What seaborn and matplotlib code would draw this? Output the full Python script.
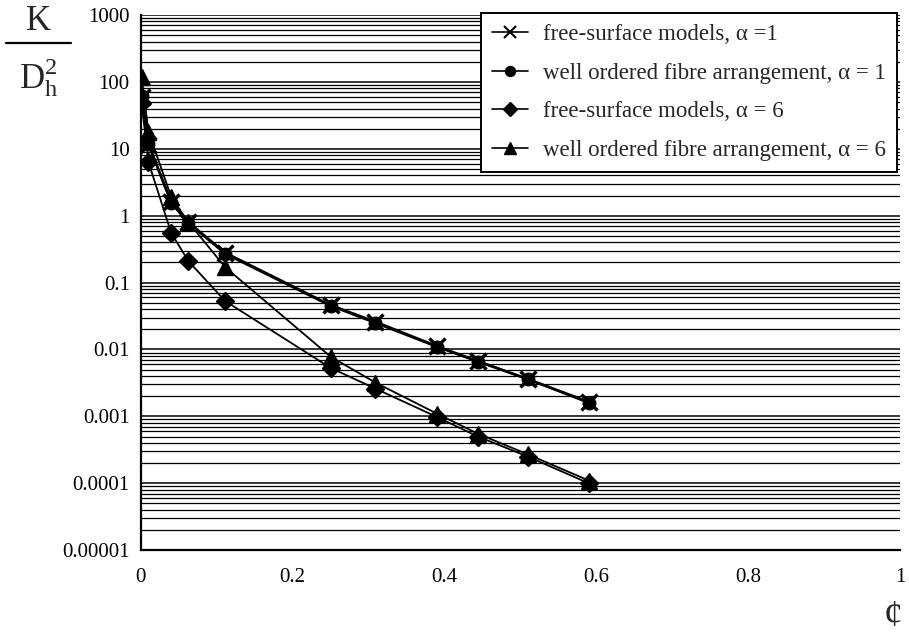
import matplotlib
matplotlib.use("Agg")
import matplotlib.pyplot as plt
from matplotlib.lines import Line2D
from matplotlib.ticker import FixedLocator, FixedFormatter, LogLocator, NullFormatter
import seaborn as sns
import pandas as pd

# Fibre volume fraction
phi = [0.001, 0.01, 0.04, 0.0625, 0.111, 0.25, 0.309, 0.39, 0.444, 0.51, 0.59]

# Dimensionless permeability K / Dh^2
free_surface_a1 = [60, 11.5, 1.6, 0.80, 0.28, 0.046, 0.026, 0.0112, 0.0067, 0.0036, 0.00165]
well_ordered_a1 = [62, 12.0, 1.55, 0.78, 0.27, 0.045, 0.025, 0.011, 0.0066, 0.0036, 0.0016]
free_surface_a6 = [48, 6.3, 0.55, 0.21, 0.053, 0.0053, 0.0026, 0.00098, 0.0005, 0.00025, 0.0001]
well_ordered_a6 = [117, 18, 1.9, 0.80, 0.17, 0.0078, 0.0032, 0.0011, 0.00055, 0.00027, 0.00011]

series_names = [
    "free-surface models, \u03b1 =1",
    "well ordered fibre arrangement, \u03b1 = 1",
    "free-surface models, \u03b1 = 6",
    "well ordered fibre arrangement, \u03b1 = 6",
]
series_values = [free_surface_a1, well_ordered_a1, free_surface_a6, well_ordered_a6]
markers = ["x", "o", "D", "^"]
marker_sizes = [11, 9, 9, 11]
line_widths = [1.8, 1.8, 1.3, 1.3]

y_ticks = [1e3, 1e2, 1e1, 1, 0.1, 0.01, 0.001, 0.0001, 0.00001]
y_tick_labels = ["1000", "100", "10", "1", "0.1", "0.01", "0.001", "0.0001", "0.00001"]
x_ticks = [0, 0.2, 0.4, 0.6, 0.8, 1]
x_tick_labels = ["0", "0.2", "0.4", "0.6", "0.8", "1"]

sns.set_theme(style="white")
plt.rcParams["font.family"] = ["Liberation Serif", "DejaVu Serif"]
plt.rcParams["mathtext.fontset"] = "custom"
plt.rcParams["mathtext.rm"] = "Liberation Serif"

fig = plt.figure(figsize=(9.09, 6.39), dpi=100)
ax = fig.add_axes([0.155, 0.139, 0.835, 0.8375])

frames = []
for name, vals in zip(series_names, series_values):
    frames.append(pd.DataFrame({"phi": phi, "k": vals, "series": name}))
df = pd.concat(frames, ignore_index=True)

for name, m, ms, lw in zip(series_names, markers, marker_sizes, line_widths):
    sub = df[df["series"] == name]
    sns.lineplot(
        data=sub, x="phi", y="k", ax=ax, color="black", lw=lw,
        marker=m, markersize=ms, markeredgecolor="black",
        markerfacecolor="black", markeredgewidth=2.4 if m == "x" else 1,
        sort=False, estimator=None, legend=False,
    )

ax.set_yscale("log")
ax.set_xlim(0, 1)
ax.set_ylim(1e-5, 1e3)

ax.yaxis.set_major_locator(FixedLocator(y_ticks))
ax.yaxis.set_major_formatter(FixedFormatter(y_tick_labels))
ax.yaxis.set_minor_locator(LogLocator(base=10, subs=range(2, 10), numticks=20))
ax.yaxis.set_minor_formatter(NullFormatter())
ax.xaxis.set_major_locator(FixedLocator(x_ticks))
ax.xaxis.set_major_formatter(FixedFormatter(x_tick_labels))

ax.yaxis.grid(True, which="major", color="black", lw=1.1)
ax.yaxis.grid(True, which="minor", color="black", lw=0.9)
ax.xaxis.grid(False)
ax.set_axisbelow(True)

for side in ["top", "right"]:
    ax.spines[side].set_visible(False)
for side in ["left", "bottom"]:
    ax.spines[side].set_color("black")
    ax.spines[side].set_linewidth(1.6)

ax.tick_params(axis="y", which="major", direction="out", length=6, width=1,
               color="black", labelsize=15, labelcolor="black", pad=2)
ax.tick_params(axis="y", which="minor", length=0)
ax.tick_params(axis="x", which="major", direction="inout", length=14, width=1,
               color="black", labelsize=15, labelcolor="black", pad=6)
ax.set_xlabel("")
ax.set_ylabel("")

# y-axis quantity written as a stacked fraction
fig.text(0.042, 0.966, "K", fontsize=25, ha="center", va="center")
fig.add_artist(Line2D([0.007, 0.078], [0.932, 0.932], transform=fig.transFigure,
                      color="black", lw=1.6))
fig.text(0.042, 0.878, r"$\mathregular{D_h^2}$", fontsize=25, ha="center", va="center")

# x-axis quantity at the lower right
fig.text(0.982, 0.035, "\u00a2", fontsize=27, ha="center", va="center")

handles = [
    Line2D([], [], color="black", lw=1.2, marker=m, markersize=ms * 0.8,
           markerfacecolor="black", markeredgewidth=1.5 if m == "x" else 1)
    for m, ms in zip(markers, marker_sizes)
]
leg = ax.legend(handles, series_names, loc="upper right",
                bbox_to_anchor=(0.996, 1.004), fontsize=16.5, frameon=True,
                fancybox=False, framealpha=1, edgecolor="black",
                handlelength=1.55, handletextpad=0.65, labelspacing=0.76,
                borderpad=0.5, borderaxespad=0)
leg.get_frame().set_linewidth(1.4)

fig.savefig("out.png", dpi=100, facecolor="white")
